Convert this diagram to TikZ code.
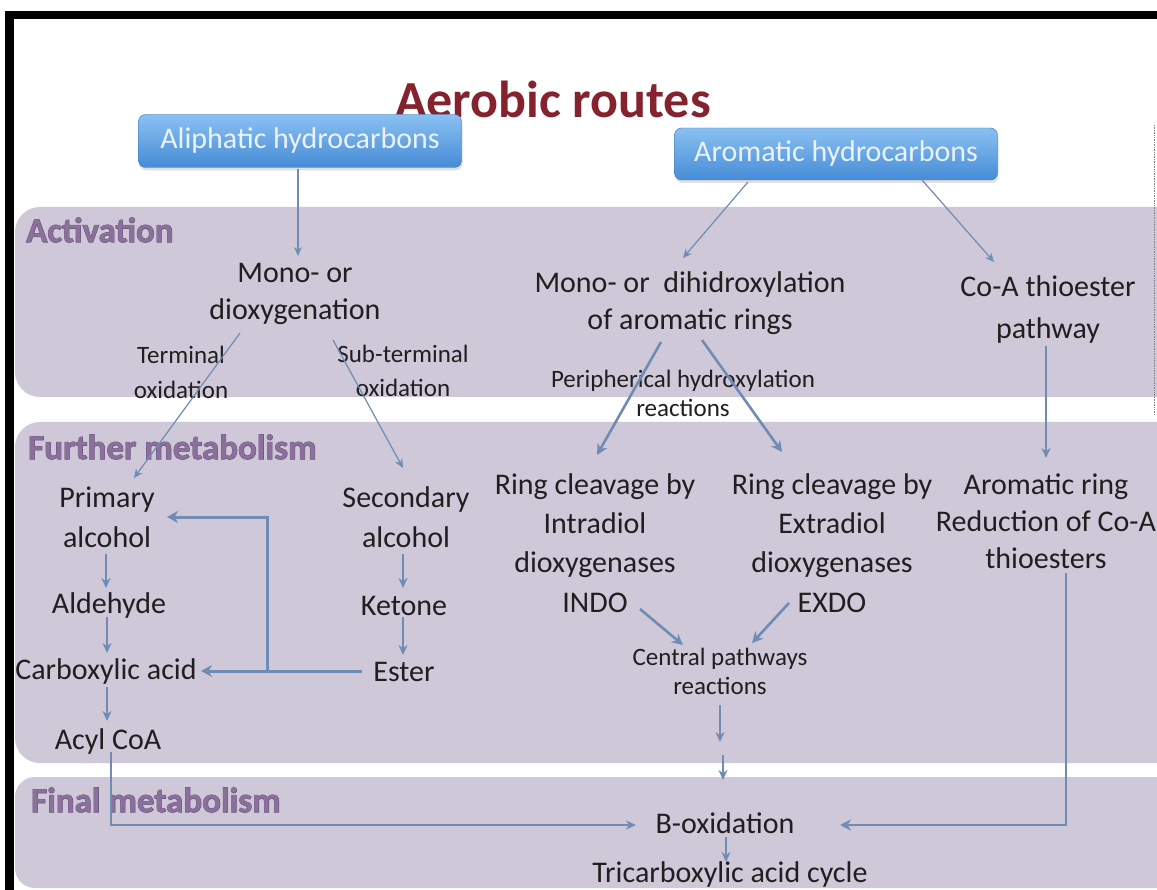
\documentclass[tikz,border=0pt]{standalone}
\usepackage{fontspec}
\setmainfont{Carlito}
\newfontfamily\hdrfont{Carlito}[BoldFeatures={FakeBold=2.2}]
\usetikzlibrary{arrows.meta,calc,shadows}
\definecolor{band}{RGB}{206,200,216}
\definecolor{hdr}{RGB}{140,112,156}
\definecolor{hdrdark}{RGB}{105,82,122}
\definecolor{arr}{RGB}{112,140,180}
\definecolor{ttl}{RGB}{132,34,46}
\definecolor{boxtop}{RGB}{138,192,242}
\definecolor{boxbot}{RGB}{70,140,214}
\definecolor{boxtxt}{RGB}{236,242,250}
\begin{document}
\begin{tikzpicture}[x=1pt,y=-1pt,
  txt/.style={inner sep=0pt, align=center, font=\fontsize{30}{37}\selectfont, text=black!88},
  stxt/.style={inner sep=0pt, align=center, font=\fontsize{25}{29}\selectfont, text=black!88},
  hdrtxt/.style={inner sep=0pt, anchor=west, font=\fontsize{35}{40}\selectfont\hdrfont\bfseries, text=hdrdark},
  hdrtop/.style={inner sep=0pt, anchor=west, font=\fontsize{35}{40}\selectfont\bfseries, text=hdr},
  hbox/.style={rounded corners=7pt, top color=boxtop, bottom color=boxbot, draw=boxbot!85!black,
     minimum width=323pt, text=boxtxt, font=\fontsize{30}{36}\selectfont,
     drop shadow={opacity=0.25, shadow xshift=1pt, shadow yshift=-3pt}},
  a1/.style={draw=arr, line width=1.2pt, -{Stealth[length=9pt,width=8pt]}},
  a2/.style={draw=arr, line width=1.8pt, -{Stealth[length=10pt,width=9pt]}},
  a3/.style={draw=arr, line width=2.6pt, -{Stealth[length=11pt,width=11pt]}},
  a4/.style={draw=arr, line width=3pt, -{Stealth[length=11pt,width=12pt]}}
]
\useasboundingbox (0,0) rectangle (1157,890);
\clip (0,0) rectangle (1157,890);
\fill[white] (0,0) rectangle (1157,890);
% bands
\fill[band, rounded corners=25pt] (15,207) rectangle (1200,397);
\fill[band, rounded corners=25pt] (15,422) rectangle (1200,763);
\fill[band, rounded corners=20pt] (15,777) rectangle (1200,888);
% frame
\fill[black] (5,11) rectangle (1157,19);
\fill[black] (5,11) rectangle (14,890);
\draw[gray, densely dotted, line width=0.7pt] (1154,125) -- (1154,415);
% headers
\node[hdrtxt] (hact) at (26,230) {Activation};
\node[hdrtop] (hact2) at (26,230) {Activation};
\node[hdrtxt] (hfur) at (28,447) {Further metabolism};
\node[hdrtop] (hfur2) at (28,447) {Further metabolism};
\node[hdrtxt] (hfin) at (31,800) {Final metabolism};
\node[hdrtop] (hfin2) at (31,800) {Final metabolism};
% title and boxes
\node[inner sep=0pt, font=\fontsize{52}{60}\selectfont\bfseries, text=ttl] (title) at (553,99) {Aerobic routes};
\node[hbox, minimum height=53pt] (ali) at (300,141) {Aliphatic hydrocarbons};
\node[hbox, minimum height=52pt] (aro) at (836,154) {Aromatic hydrocarbons};
% activation
\node[txt] (mono) at (295,294) {Mono- or\\dioxygenation};
\node[stxt, font=\fontsize{25}{35}\selectfont] (term) at (181,372) {Terminal\\oxidation};
\node[stxt, font=\fontsize{25}{34}\selectfont] (subt) at (403,371) {Sub-terminal\\oxidation};
\node[txt] (aromring) at (690,303) {Mono- or~ dihidroxylation\\of aromatic rings};
\node[txt, font=\fontsize{30}{42}\selectfont] (coa) at (1048,310) {Co-A thioester\\pathway};
\node[stxt] (periph) at (683,393) {Peripherical hydroxylation\\reactions};
% further metabolism
\node[txt, font=\fontsize{30}{40}\selectfont] (primary) at (107,517) {Primary\\alcohol};
\node[txt] (aldehyde) at (109,606) {Aldehyde};
\node[txt] (carbox) at (106,672) {Carboxylic acid};
\node[txt] (acyl) at (108,741) {Acyl CoA};
\node[txt, font=\fontsize{30}{40}\selectfont] (secondary) at (406,517) {Secondary\\alcohol};
\node[txt] (ketone) at (404,606) {Ketone};
\node[txt] (ester) at (404,672) {Ester};
\node[txt, font=\fontsize{30}{39.3}\selectfont] (intra) at (595,543) {Ring cleavage by\\Intradiol\\dioxygenases\\INDO};
\node[txt, font=\fontsize{30}{39.3}\selectfont] (extra) at (832,543) {Ring cleavage by\\Extradiol\\dioxygenases\\EXDO};
\node[txt] (arom) at (1046,521) {Aromatic ring\\Reduction of Co-A\\thioesters};
\node[stxt] (central) at (720,671) {Central pathways\\reactions};
% final
\node[txt] (boxid) at (725,823) {B-oxidation};
\node[txt] (tca) at (730,874) {Tricarboxylic acid cycle};
\coordinate (mid1) at (720,742);
\coordinate (mid2) at (723,755);
\coordinate (mid3) at (723,780);
% connectors
\draw[a1] ($(ali)+(-2,28)$) -- ($(mono)+(3,-38)$);
\draw[a1] ($(aro)+(-88,28)$) -- ($(aromring)+(-7,-45)$);
\draw[a1] ($(aro)+(86,26)$) -- ($(coa)+(-54,-48)$);
\draw[a1] ($(mono)+(-55,39)$) -- ($(primary)+(27,-39)$);
\draw[a1] ($(mono)+(38,46)$) -- ($(secondary)+(-3,-49)$);
\draw[a3] ($(aromring)+(-29,39)$) -- ($(intra)+(2,-88)$);
\draw[a3] ($(aromring)+(12,37)$) -- ($(extra)+(-50,-91)$);
\draw[a2] ($(coa)+(-2,36)$) -- ($(arom)+(0,-63)$);
\draw[a2] ($(primary)+(-1,37)$) -- ($(aldehyde)+(-3,-18)$);
\draw[a2] ($(aldehyde)+(-2,11)$) -- ($(carbox)+(1,-19)$);
\draw[a2] ($(carbox)+(1,15)$) -- ($(acyl)+(-1,-20)$);
\draw[a2] ($(secondary)+(-3,37)$) -- ($(ketone)+(-1,-18)$);
\draw[a2] ($(ketone)+(-1,11)$) -- ($(ester)+(-1,-17)$);
\draw[a4] ($(ester)+(-42,-1)$) -- ($(carbox)+(95,-1)$);
\draw[a4] ($(ester)+(-137,-1)$) |- ($(primary)+(60,0)$);
\draw[a3] ($(intra)+(45,66)$) -- ($(central)+(-37,-26)$);
\draw[a3] ($(extra)+(-43,60)$) -- ($(central)+(32,-28)$);
\draw[a2] ($(central)+(0,34)$) -- (mid1);
\draw[a2] (mid2) -- (mid3);
\draw[a2] ($(acyl)+(3,11)$) |- ($(boxid)+(-89,2)$);
\draw[a3] ($(arom)+(20,52)$) |- ($(boxid)+(115,2)$);
\draw[a2] ($(boxid)+(1,14)$) -- ($(tca)+(-4,-12)$);
\end{tikzpicture}
\end{document}
